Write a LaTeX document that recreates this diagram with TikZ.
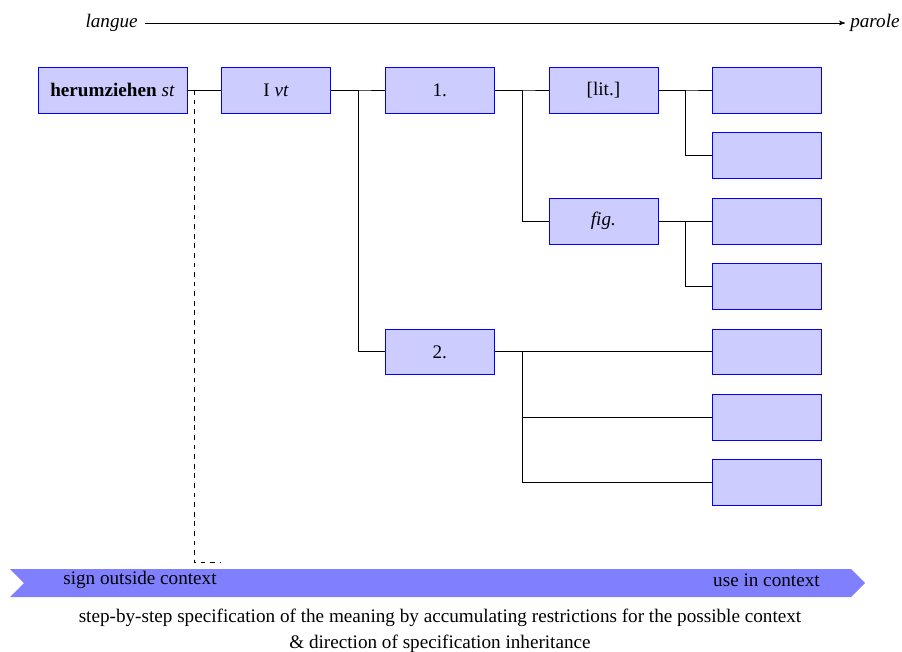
\documentclass[tikz,border=0pt]{standalone}
\usepackage{fontspec}
\setmainfont{Liberation Serif}
\usetikzlibrary{positioning,arrows,shapes.symbols,calc}

\begin{document}
\begin{tikzpicture}[->,>=stealth',node distance=1.44cm and 3.6cm,on grid,font=\fontsize{12}{14.5}\selectfont,
  box node/.style={rectangle,draw=blue,fill=blue!20,minimum width=2.4cm,minimum height=1.01cm},
  fork/.style={-,to path={(\tikztostart.east) -- ++(0.6,0) |- (\tikztotarget.west)}}]
  \useasboundingbox (-2.475,1.98) rectangle (17.369,-12.364);
  % langue -> parole
  \node[anchor=east,inner sep=0] (langue) at (0.561,1.474) {\textit{langue}};
  \node[anchor=west,inner sep=0] (parole) at (16.225,1.474) {\textit{parole}};
  \draw[shorten <=0.15cm,shorten >=0.11cm] (langue) -- (parole);

  \node[box node,minimum width=3.28cm] (root) at (0,0) {\textbf{herumziehen} \textit{st}};
  \node[box node] (ivt) [right=of root] {I \textit{vt}};
  \node[box node] (one) [right=of ivt] {1.};
  \node[box node] (lit) [right=of one] {[lit.]};
  \node[box node] (a1) [right=of lit] {};
  \node[box node] (a2) [below=of a1] {};
  \node[box node] (fig) [below=2.88cm of lit] {\textit{fig.}};
  \node[box node] (b1) [right=of fig] {};
  \node[box node] (b2) [below=of b1] {};
  \node[box node] (two) [below=5.76cm of one] {2.};
  \node[box node] (c1) [below=of b2] {};
  \node[box node] (c2) [below=of c1] {};
  \node[box node] (c3) [below=of c2] {};

  \draw[-] (root) -- (ivt);
  \path[draw]
    (ivt) edge[fork] (one) edge[fork] (two)
    (one) edge[fork] (lit) edge[fork] (fig)
    (lit) edge[fork] (a1) edge[fork] (a2)
    (fig) edge[fork] (b1) edge[fork] (b2)
    (two) edge[fork] (c1) edge[fork] (c2) edge[fork] (c3);

  % Band unten
  \node[signal,signal from=west,signal to=east,fill=blue!50,draw=none,minimum width=18.81cm,minimum height=0.616cm,inner sep=0] (band) at (7.15,-10.846) {};
  \node[anchor=west,inner sep=0] (signlab) at (-1.089,-10.78) {sign outside context};
  \node[anchor=east,inner sep=0] (uselab) at (15.565,-10.78) {use in context};
  \coordinate (d0) at ($(root.east)+(0.15,0)$);
  \coordinate (d1) at ($(ivt.west |- band.north)+(0,0.13)$);
  \draw[-,dashed] (d0) |- (d1);

  \node[align=center,inner sep=0] (caption) at (7.205,-11.891) {step-by-step specification of the meaning by accumulating restrictions for the possible context\\[2pt]
    \& direction of specification inheritance};
\end{tikzpicture}
\end{document}
